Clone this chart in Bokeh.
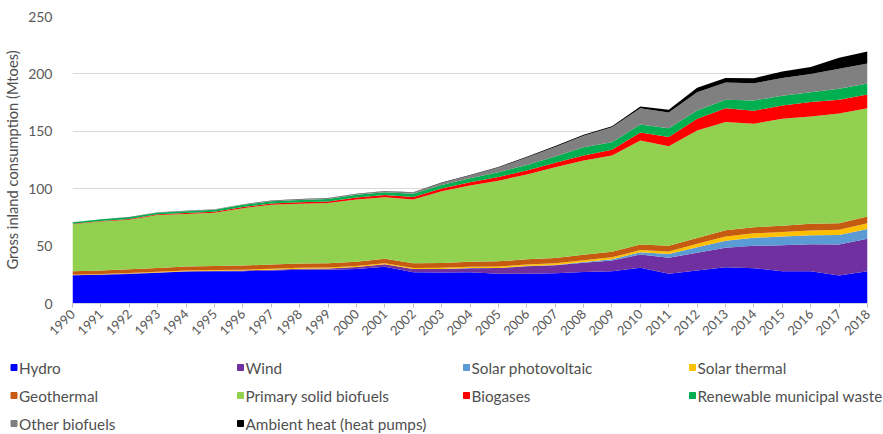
from math import pi
from bokeh.plotting import figure
from bokeh.models import ColumnDataSource, Range1d, FixedTicker
from bokeh.core.properties import value
from bokeh.embed import file_html
from bokeh.resources import INLINE

years = [1990, 1991, 1992, 1993, 1994, 1995, 1996, 1997, 1998, 1999,
         2000, 2001, 2002, 2003, 2004, 2005, 2006, 2007, 2008, 2009,
         2010, 2011, 2012, 2013, 2014, 2015, 2016, 2017, 2018]

hydro = [24.5, 25.0, 25.8, 26.8, 27.8, 28.0, 28.2, 28.7, 29.3, 29.3,
         30.0, 32.0, 27.3, 27.0, 27.3, 25.9, 25.9, 26.3, 27.5, 28.0,
         31.1, 25.9, 28.7, 31.6, 30.8, 28.2, 28.2, 24.4, 28.2]
wind = [0.1, 0.2, 0.3, 0.3, 0.4, 0.5, 0.6, 0.8, 1.0, 1.2,
        1.8, 2.2, 2.7, 3.0, 3.5, 5.0, 6.5, 7.0, 8.0, 9.5,
        11.6, 14.0, 15.5, 16.9, 19.5, 22.5, 23.5, 27.0, 28.2]
solar_pv = [0.0, 0.0, 0.0, 0.0, 0.0, 0.0, 0.0, 0.0, 0.0, 0.0,
            0.0, 0.0, 0.0, 0.1, 0.1, 0.1, 0.2, 0.3, 0.6, 1.1,
            2.0, 3.2, 4.9, 6.2, 7.0, 7.6, 7.8, 8.2, 8.6]
solar_thermal = [0.4, 0.45, 0.5, 0.5, 0.55, 0.6, 0.65, 0.7, 0.75, 0.8,
                 0.85, 0.9, 1.0, 1.05, 1.1, 1.2, 1.3, 1.4, 1.5, 1.6,
                 1.8, 2.1, 3.0, 3.6, 3.8, 3.9, 4.0, 4.6, 4.8]
geothermal = [3.2, 3.2, 3.3, 3.4, 3.4, 3.5, 3.6, 3.7, 3.7, 3.8,
              3.8, 3.9, 4.0, 4.1, 4.3, 4.5, 4.6, 4.7, 4.8, 4.9,
              4.9, 5.0, 5.0, 5.5, 5.3, 5.6, 6.0, 5.8, 5.9]
solid_biofuels = [40.8, 42.6, 43.1, 46.0, 45.8, 46.4, 50.0, 52.1, 52.2, 52.4,
                  54.2, 53.6, 55.6, 62.5, 66.5, 70.3, 73.9, 79.0, 82.2, 83.9,
                  90.6, 86.8, 93.6, 94.2, 90.1, 93.2, 93.5, 95.5, 94.3]
biogases = [0.4, 0.5, 0.6, 0.7, 0.8, 0.9, 1.0, 1.1, 1.2, 1.4,
            1.6, 1.9, 2.2, 2.5, 2.9, 3.2, 3.5, 3.9, 4.4, 5.0,
            7.0, 8.0, 10.3, 12.0, 11.5, 11.5, 12.5, 12.0, 12.0]
municipal_waste = [1.3, 1.4, 1.5, 1.6, 1.7, 1.8, 1.9, 2.0, 2.1, 2.2,
                   2.4, 2.5, 2.7, 3.0, 3.5, 4.2, 4.8, 5.5, 7.0, 6.5,
                   7.0, 7.6, 7.2, 7.5, 8.8, 8.5, 8.5, 9.5, 9.6]
other_biofuels = [0.0, 0.0, 0.1, 0.1, 0.2, 0.3, 0.4, 0.5, 0.5, 0.6,
                  0.7, 0.8, 1.1, 1.8, 2.3, 4.0, 6.5, 8.3, 10.2, 13.0,
                  14.0, 13.8, 15.8, 15.0, 15.0, 15.5, 16.0, 17.5, 17.4]
ambient_heat = [0.1, 0.1, 0.1, 0.1, 0.1, 0.1, 0.1, 0.1, 0.2, 0.2,
                0.2, 0.2, 0.3, 0.4, 0.5, 0.6, 0.7, 0.8, 0.9, 1.0,
                1.6, 2.3, 4.0, 4.0, 4.5, 5.5, 6.0, 9.5, 10.5]

series_names = ["Hydro", "Wind", "Solar photovoltaic", "Solar thermal",
                "Geothermal", "Primary solid biofuels", "Biogases",
                "Renewable municipal waste", "Other biofuels",
                "Ambient heat (heat pumps)"]
series_values = [hydro, wind, solar_pv, solar_thermal, geothermal,
                 solid_biofuels, biogases, municipal_waste, other_biofuels,
                 ambient_heat]
colors = ["#0000FF", "#7030A0", "#5B9BD5", "#FFC000", "#C55A11",
          "#92D050", "#FF0000", "#00B050", "#808080", "#000000"]
y_ticks = [0, 50, 100, 150, 200, 250]

keys = ["s%d" % i for i in range(len(series_names))]
data = {"year": years}
for k, v in zip(keys, series_values):
    data[k] = v
src = ColumnDataSource(data)

FONT = "Lato"
GRAY = "#595959"

p = figure(width=883, height=345, x_range=Range1d(1990, 2018),
           y_range=Range1d(0, 250), output_backend="svg",
           toolbar_location=None, min_border_left=71, min_border_right=16,
           min_border_top=16, min_border_bottom=42)
p.outline_line_color = None
p.varea_stack(stackers=keys, x="year", color=colors, source=src)

p.xgrid.visible = False
p.ygrid.ticker = FixedTicker(ticks=y_ticks)
p.ygrid.grid_line_color = "#D9D9D9"
p.ygrid.grid_line_width = 1

p.yaxis.ticker = FixedTicker(ticks=y_ticks)
p.yaxis.axis_line_color = None
p.yaxis.major_tick_line_color = None
p.yaxis.minor_tick_line_color = None
p.yaxis.major_label_standoff = 14
p.yaxis.major_label_text_font = FONT
p.yaxis.major_label_text_font_size = "14px"
p.yaxis.major_label_text_color = GRAY
p.yaxis.axis_label = "Gross inland consumption (Mtoes)"
p.yaxis.axis_label_text_font = FONT
p.yaxis.axis_label_text_font_size = "14.7px"
p.yaxis.axis_label_text_font_style = "normal"
p.yaxis.axis_label_text_color = "#505050"
p.yaxis.axis_label_standoff = 4

p.xaxis.ticker = FixedTicker(ticks=years)
p.xaxis.major_label_orientation = pi / 4
p.xaxis.major_label_text_font = FONT
p.xaxis.major_label_text_font_size = "13px"
p.xaxis.major_label_text_color = GRAY
p.xaxis.major_label_standoff = 4
p.xaxis.axis_line_color = "#D0D4E4"
p.xaxis.major_tick_line_color = "#BFBFBF"
p.xaxis.major_tick_in = 0
p.xaxis.major_tick_out = 4
p.xaxis.minor_tick_line_color = None

# Legend panel (separate root, pixel-like coordinates)
leg = figure(width=883, height=89, x_range=Range1d(0, 883),
             y_range=Range1d(89, 0), output_backend="svg",
             toolbar_location=None, x_axis_type=None, y_axis_type=None,
             min_border=0)
leg.outline_line_color = None
leg.xgrid.visible = False
leg.ygrid.visible = False
col_x = [13.5, 240, 466, 692]
row_y = [22, 50, 78]
sq_x, sq_y, tx_x = [], [], []
for i in range(len(series_names)):
    r, c = divmod(i, 4)
    sq_x.append(col_x[c])
    sq_y.append(row_y[r])
    tx_x.append(col_x[c] + 5)
leg.scatter(x=sq_x, y=sq_y, marker="square", size=6, color=colors)
leg.text(x=tx_x, y=sq_y, text=series_names, text_baseline="middle",
         text_align="left", text_font=value(FONT), text_font_size="15.3px",
         text_color="#505050")

open("out.html", "w").write(file_html([p, leg], INLINE))
